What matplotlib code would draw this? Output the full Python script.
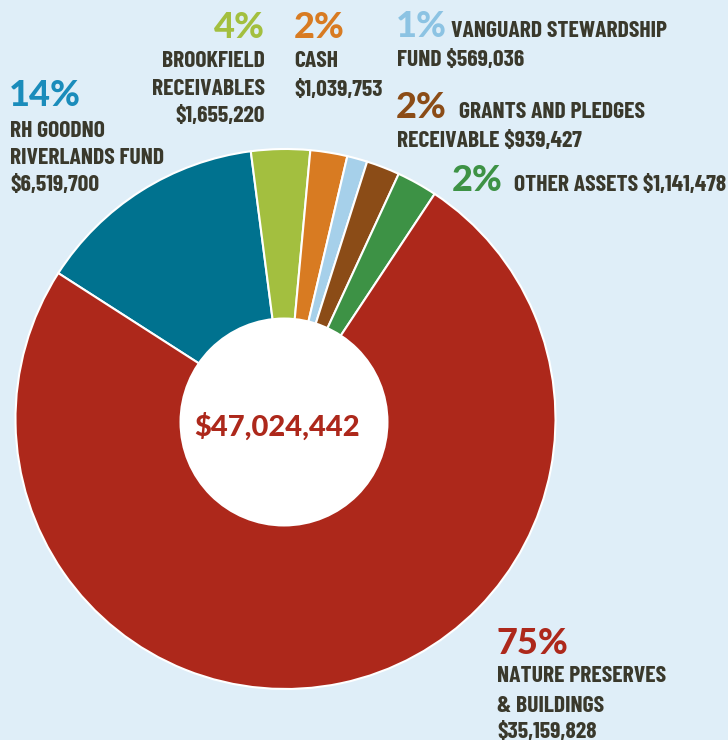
import matplotlib.pyplot as plt
from matplotlib.patches import Circle

# data
labels = ['RH Goodno Riverlands Fund', 'Brookfield Receivables', 'Cash',
          'Vanguard Stewardship Fund', 'Grants and Pledges Receivable',
          'Other Assets', 'Nature Preserves & Buildings']
values = [6519700, 1655220, 1039753, 569036, 939427, 1141478, 35159828]
percents = ['14%', '4%', '2%', '1%', '2%', '2%', '75%']
wedge_colors = ['#00728f', '#a3bf3f', '#d87b22', '#a6d0ea', '#8b4c17', '#3d9245', '#ad281b']
pct_colors = ['#1a8cbb', '#a3bf3f', '#d87b22', '#8cc3e3', '#8b4c17', '#3d9245', '#ad281b']
total_label = '$47,024,442'

W, H = 728, 740
BG = '#dfeef8'
TXT = '#3a392c'
LBL = ['Barlow Condensed', 'DejaVu Sans']
PCT = ['Lato', 'DejaVu Sans']

fig = plt.figure(figsize=(W / 100, H / 100), dpi=100)
fig.patch.set_facecolor(BG)
ax = fig.add_axes([0, 0, 1, 1])
ax.set_facecolor(BG)

ax.pie(values, colors=wedge_colors, startangle=147.3, counterclock=False,
       center=(285.5, H - 419), radius=270,
       wedgeprops=dict(edgecolor='white', linewidth=1.5))
ax.add_patch(Circle((284, H - 422), 104.5, facecolor='white', edgecolor='none', zorder=3))
ax.text(277, H - 427, total_label, ha='center', va='center', fontsize=21,
        fontweight=900, color='#ad281b', family=PCT, zorder=4)

ax.set_xlim(0, W)
ax.set_ylim(0, H)
ax.set_aspect('equal')
ax.axis('off')


def pct(x, y, s, c, ha='left'):
    ax.text(x, H - y, s, ha=ha, va='baseline', fontsize=26, fontweight=900,
            color=c, family=PCT)


def lbl(x, y, s, ha='left'):
    ax.text(x, H - y, s, ha=ha, va='baseline', fontsize=17, fontweight='bold',
            color=TXT, family=LBL)


# RH Goodno
pct(9, 106, percents[0], pct_colors[0])
lbl(10, 137, 'RH GOODNO')
lbl(10, 164, 'RIVERLANDS FUND')
lbl(10, 191, '$6,519,700')

# Brookfield
pct(265, 37.5, percents[1], pct_colors[1], ha='right')
lbl(265, 67, 'BROOKFIELD', ha='right')
lbl(265, 95, 'RECEIVABLES', ha='right')
lbl(265, 122, '$1,655,220', ha='right')

# Cash
pct(294, 37.5, percents[2], pct_colors[2])
lbl(294, 67, 'CASH')
lbl(294, 96.5, '$1,039,753')

# Vanguard
pct(396, 37, percents[3], pct_colors[3])
lbl(451, 37, 'VANGUARD STEWARDSHIP')
lbl(397, 66, 'FUND $569,036')

# Grants
pct(396, 118, percents[4], pct_colors[4])
lbl(459, 118, 'GRANTS AND PLEDGES')
lbl(397, 147, 'RECEIVABLE $939,427')

# Other
pct(452, 191, percents[5], pct_colors[5])
lbl(514, 191, 'OTHER ASSETS $1,141,478')

# Nature preserves
pct(496, 654, percents[6], pct_colors[6])
lbl(497, 682.5, 'NATURE PRESERVES')
lbl(497, 711.5, '& BUILDINGS')
lbl(497, 738, '$35,159,828')

fig.savefig('out.png', dpi=100, facecolor=BG)
